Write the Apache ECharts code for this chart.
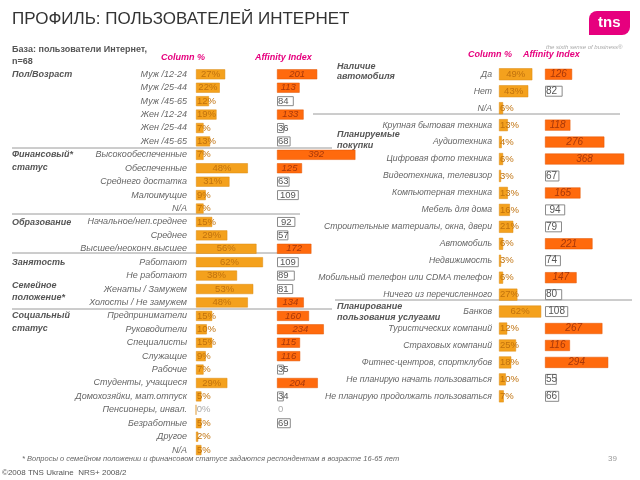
<!DOCTYPE html>
<html><head><meta charset="utf-8">
<script src="https://cdn.jsdelivr.net/npm/echarts@6/dist/echarts.min.js"></script>
<style>html,body{margin:0;padding:0;background:#fff}#c{width:640px;height:480px}</style>
</head><body><div id="c"></div>
<script>
const leftCats = ["Муж /12-24","Муж /25-44","Муж /45-65","Жен /12-24","Жен /25-44","Жен /45-65",
 "Высокообеспеченные","Обеспеченные","Среднего достатка","Малоимущие","N/A",
 "Начальное/неп.среднее","Среднее","Высшее/неоконч.высшее",
 "Работают","Не работают","Женаты / Замужем","Холосты / Не замужем",
 "Предприниматели","Руководители","Специалисты","Служащие","Рабочие","Студенты, учащиеся",
 "Домохозяйки, мат.отпуск","Пенсионеры, инвал.","Безработные","Другое","N/A"];
const leftPct = [27,22,12,19,7,13, 7,48,31,9,7, 15,29,56, 62,38, 53,48, 15,10,15,9,7,29,5,0,5,2,5];
const leftAff = [201,113,84,133,36,68, 392,125,63,109,null, 92,57,172, 109,89, 81,134, 160,234,115,116,35,204,34,0,69,null,null];

const rightCats = ["Да","Нет","N/A","Крупная бытовая техника","Аудиотехника","Цифровая фото техника",
 "Видеотехника, телевизор","Компьютерная техника","Мебель для дома","Строительные материалы, окна, двери",
 "Автомобиль","Недвижимость","Мобильный телефон или CDMA телефон","Ничего из перечисленного",
 "Банков","Туристических компаний","Страховых компаний","Фитнес-центров, спортклубов",
 "Не планирую начать пользоваться","Не планирую продолжать пользоваться"];
const rightPct = [49,43,6,13,4,6,3,13,16,21,6,3,6,27,62,12,25,18,10,7];
const rightAff = [126,82,null,118,276,368,67,165,94,79,221,74,147,80,108,267,116,294,55,66];

const FONT = "'Liberation Sans', Arial, sans-serif";
const COL = '#F4A11D', AFF = '#FF6A0D', PINK = '#E6007E';

function pctData(vals, pxPer) {
  return vals.map(v => ({
    value: v,
    label: { position: v * pxPer < 22 ? 'insideLeft' : 'inside', distance: 1,
             color: v === 0 ? '#aaa' : '#C0720E' }
  }));
}
function affData(vals, pxPer) {
  return vals.map(v => {
    if (v === null) return { value: null };
    const hi = v > 110;
    return {
      value: v,
      itemStyle: hi ? { color: AFF, borderColor: '#E05500', borderWidth: 0.5 }
                    : { color: '#fff', borderColor: v === 0 ? 'rgba(0,0,0,0)' : '#8a8a8a', borderWidth: v === 0 ? 0 : 1 },
      label: { position: v * pxPer < 18 ? 'insideLeft' : 'inside', distance: 1,
               color: hi ? '#A8380A' : (v === 0 ? '#aaa' : '#555'), fontStyle: hi ? 'italic' : 'normal' }
    };
  });
}

const chart = echarts.init(document.getElementById('c'));
const LT = 67.6, LH = 389.2, RT = 65.8, RH = 339;
const catAxis = (grid, cats, show, fs, margin) => ({
  type: 'category', gridIndex: grid, data: cats, inverse: true,
  axisLine: { show: false }, axisTick: { show: false }, splitLine: { show: false },
  axisLabel: { show: show, color: '#666', fontStyle: 'italic', fontSize: fs, fontFamily: FONT, margin: margin }
});
const valAxis = (grid, max) => ({ type: 'value', gridIndex: grid, min: 0, max: max, show: false });

const txt = (x, y, t, o) => ({ type: 'text', x: x, y: y, style: Object.assign({ text: t, fontFamily: FONT, fill: '#555', fontSize: 9 }, o || {}) });
const line = (x1, y, x2) => ({ type: 'line', shape: { x1: x1, y1: y, x2: x2, y2: y }, style: { stroke: '#9a9a9a', lineWidth: 1 } });
const sec = { fontWeight: 'bold', fontStyle: 'italic', fill: '#555', fontSize: 9 };

chart.setOption({
  animation: false,
  grid: [
    { left: 196, top: LT, width: 108, height: LH },
    { left: 277, top: LT, width: 100, height: LH },
    { left: 499, top: RT, width: 68, height: RH },
    { left: 545, top: RT, width: 86, height: RH }
  ],
  xAxis: [valAxis(0, 100), valAxis(1, 500), valAxis(2, 100), valAxis(3, 400)],
  yAxis: [catAxis(0, leftCats, true, 9, 9), catAxis(1, leftCats, false, 9, 0),
          catAxis(2, rightCats, true, 8.7, 7), catAxis(3, rightCats, false, 9, 0)],
  series: [
    { type: 'bar', xAxisIndex: 0, yAxisIndex: 0, barWidth: 10, data: pctData(leftPct, 1.08),
      itemStyle: { color: COL, borderColor: '#DB8A12', borderWidth: 0.5 },
      label: { show: true, formatter: '{c}%', fontSize: 9.5, fontFamily: FONT } },
    { type: 'bar', xAxisIndex: 1, yAxisIndex: 1, barWidth: 10, data: affData(leftAff, 0.2),
      label: { show: true, fontSize: 9.5, fontFamily: FONT } },
    { type: 'bar', xAxisIndex: 2, yAxisIndex: 2, barWidth: 12, data: pctData(rightPct, 0.68),
      itemStyle: { color: COL, borderColor: '#DB8A12', borderWidth: 0.5 },
      label: { show: true, formatter: '{c}%', fontSize: 9.5, fontFamily: FONT } },
    { type: 'bar', xAxisIndex: 3, yAxisIndex: 3, barWidth: 11, data: affData(rightAff, 0.215),
      label: { show: true, fontSize: 10, fontFamily: FONT } }
  ],
  graphic: [
    txt(12, 11, 'ПРОФИЛЬ: ПОЛЬЗОВАТЕЛЕЙ ИНТЕРНЕТ', { fontSize: 17, fill: '#333' }),
    { type: 'rect', shape: { x: 589, y: 11, width: 41, height: 24, r: [8, 0, 8, 0] }, style: { fill: PINK } },
    txt(598, 15, 'tns', { fontSize: 15, fontWeight: 'bold', fill: '#fff' }),
    txt(546, 44, 'the sixth sense of business\u00AE', { fontSize: 6, fill: '#aaa', fontStyle: 'italic' }),
    txt(12, 45, 'База: пользователи Интернет,', { fontSize: 9, fontWeight: 'bold', fill: '#555' }),
    txt(12, 57, 'n=68', { fontSize: 9, fontWeight: 'bold', fill: '#555' }),
    txt(161, 53, 'Column %', { fontSize: 9, fontWeight: 'bold', fontStyle: 'italic', fill: PINK }),
    txt(255, 53, 'Affinity Index', { fontSize: 9, fontWeight: 'bold', fontStyle: 'italic', fill: PINK }),
    txt(468, 50, 'Column %', { fontSize: 9, fontWeight: 'bold', fontStyle: 'italic', fill: PINK }),
    txt(523, 50, 'Affinity Index', { fontSize: 9, fontWeight: 'bold', fontStyle: 'italic', fill: PINK }),
    txt(12, 70, 'Пол/Возраст', sec),
    txt(12, 150, 'Финансовый*', sec), txt(12, 163, 'статус', sec),
    txt(12, 218, 'Образование', sec),
    txt(12, 258, 'Занятость', sec),
    txt(12, 281, 'Семейное', sec), txt(12, 293, 'положение*', sec),
    txt(12, 311, 'Социальный', sec), txt(12, 324, 'статус', sec),
    txt(337, 62, 'Наличие', sec), txt(337, 72, 'автомобиля', sec),
    txt(337, 130, 'Планируемые', sec), txt(337, 141, 'покупки', sec),
    txt(337, 302, 'Планирование', sec), txt(337, 313, 'пользования услугами', sec),
    line(12, 148, 332), line(12, 214, 300), line(12, 253, 300), line(12, 309, 332),
    line(313, 114, 620), line(335, 300, 632),
    txt(22, 455, '* Вопросы о семейном положении и финансовом статусе задаются респондентам в возрасте 16-65 лет', { fontSize: 7.5, fontStyle: 'italic', fill: '#666' }),
    txt(2, 469, '©2008 TNS Ukraine  NRS+ 2008/2', { fontSize: 8, fill: '#555' }),
    txt(608, 455, '39', { fontSize: 8, fill: '#999' })
  ]
});
</script></body></html>
